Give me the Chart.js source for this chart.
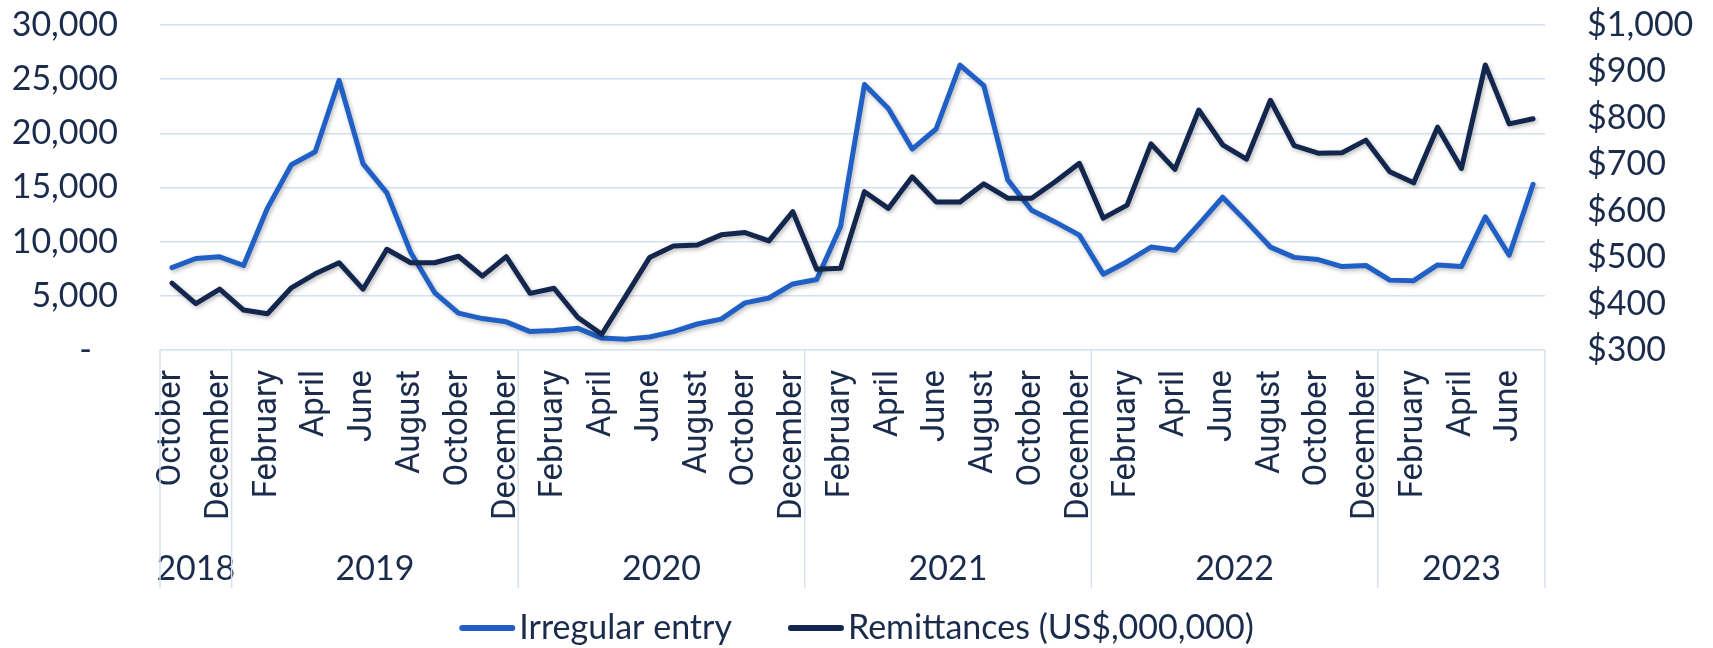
<!DOCTYPE html>
<html>
<head>
<meta charset="utf-8">
<script src="https://cdn.jsdelivr.net/npm/chart.js@4"></script>
<style>
  html, body { margin: 0; padding: 0; background: #fff; }
  #wrap { width: 1713px; height: 648px; position: relative; }
</style>
</head>
<body>
<div id="wrap"><canvas id="myChart"></canvas></div>
<script>
// months shown every other tick, years drawn as a grouped row underneath
var monthNames = ["January", "February", "March", "April", "May", "June",
  "July", "August", "September", "October", "November", "December"];
var years = ["2018", "2019", "2020", "2021", "2022", "2023"];
var yearCounts = [3, 12, 12, 12, 12, 7];
var firstMonth = 9; // October 2018

var irregularEntry = [7600, 8450, 8600, 7800, 13100, 17100, 18300, 24900, 17200, 14500,
  9000, 5300, 3400, 2900, 2600, 1700, 1800, 2000, 1100, 1000,
  1200, 1700, 2400, 2850, 4350, 4800, 6100, 6500, 11400, 24500,
  22300, 18550, 20400, 26300, 24400, 15700, 12900, 11800, 10600, 7000,
  8150, 9500, 9200, 11600, 14100, 11850, 9500, 8550, 8350, 7700,
  7800, 6450, 6400, 7850, 7700, 12300, 8750, 15300];

var remittances = [444, 400, 431, 386, 378, 434, 464, 488, 431, 517,
  488, 488, 502, 459, 501, 422, 433, 370, 334, 416,
  499, 524, 526, 548, 553, 535, 598, 474, 476, 641,
  605, 673, 619, 619, 658, 627, 627, 663, 702, 584,
  612, 744, 689, 817, 742, 711, 838, 740, 724, 725,
  752, 684, 660, 780, 691, 914, 787, 798];

var leftTicks = { min: 0, max: 30000, step: 5000 };
var rightTicks = { min: 300, max: 1000, step: 100 };

var labels = [];
for (var i = 0; i < irregularEntry.length; i++) {
  labels.push(monthNames[(firstMonth + i) % 12]);
}

var blue = "#2060C6",
  navy = "#12264E",
  textColor = "#1B2B4B",
  gridColor = "#D3E0F3",
  tickFont = { family: "Lato", size: 34 };

var shadowPlugin = {
  id: "lineShadow",
  beforeDatasetsDraw: function(chart) {
    var c = chart.ctx;
    c.save();
    c.shadowColor = "rgba(0,0,0,0.28)";
    c.shadowBlur = 4;
    c.shadowOffsetX = 1.5;
    c.shadowOffsetY = 2;
  },
  afterDatasetsDraw: function(chart) {
    chart.ctx.restore();
  }
};

var groupPlugin = {
  id: "yearRow",
  afterDraw: function(chart) {
    var ctx = chart.ctx,
      x = chart.scales.x,
      area = chart.chartArea,
      step = x.getPixelForValue(1) - x.getPixelForValue(0),
      start = 0,
      edges = [x.left];
    ctx.save();
    ctx.font = tickFont.size + "px " + tickFont.family;
    ctx.fillStyle = textColor;
    ctx.textAlign = "center";
    ctx.textBaseline = "middle";
    years.forEach(function(yr, k) {
      var n = yearCounts[k];
      var l = x.getPixelForValue(start) - step / 2;
      var r = x.getPixelForValue(start + n - 1) + step / 2;
      ctx.fillText(yr, (l + r) / 2, 569);
      edges.push(r);
      start += n;
    });
    ctx.strokeStyle = gridColor;
    ctx.lineWidth = 1.5;
    edges.forEach(function(px) {
      ctx.beginPath();
      ctx.moveTo(px, area.bottom);
      ctx.lineTo(px, 588);
      ctx.stroke();
    });

    // legend
    var sw = 56, gap = 4, between = 56, ly = 628;
    var items = chart.data.datasets.map(function(ds) {
      return { text: ds.label, color: ds.borderColor, w: sw + gap + ctx.measureText(ds.label).width };
    });
    var total = items.reduce(function(s, it) { return s + it.w; }, 0) + between * (items.length - 1);
    var cx = chart.width / 2 - total / 2;
    ctx.textAlign = "left";
    ctx.lineCap = "round";
    ctx.lineWidth = 6;
    items.forEach(function(it) {
      ctx.strokeStyle = it.color;
      ctx.beginPath();
      ctx.moveTo(cx + 3, ly);
      ctx.lineTo(cx + sw - 3, ly);
      ctx.stroke();
      ctx.fillText(it.text, cx + sw + gap, ly);
      cx += it.w + between;
    });
    ctx.restore();
  }
};

function fixWidth(w) {
  return function(scale) {
    scale.width = w;
    scale.paddingTop = 0;
    scale.paddingBottom = 0;
  };
}

var ctx = document.getElementById("myChart");
var myChart = new Chart(ctx, {
  type: "line",
  data: {
    labels: labels,
    datasets: [
      {
        label: "Irregular entry",
        data: irregularEntry,
        yAxisID: "y",
        borderColor: blue,
        backgroundColor: blue,
        borderWidth: 5,
        pointRadius: 0,
        tension: 0,
        borderJoinStyle: "round",
        borderCapStyle: "round",
        order: 1
      },
      {
        label: "Remittances (US$,000,000)",
        data: remittances,
        yAxisID: "y1",
        borderColor: navy,
        backgroundColor: navy,
        borderWidth: 5,
        pointRadius: 0,
        tension: 0,
        borderJoinStyle: "round",
        borderCapStyle: "round",
        order: 0
      }
    ]
  },
  options: {
    responsive: true,
    maintainAspectRatio: false,
    animation: false,
    layout: { padding: { top: 25, bottom: 0, left: 0, right: 0 } },
    plugins: {
      legend: { display: false },
      tooltip: { enabled: false }
    },
    scales: {
      x: {
        offset: true,
        grid: { display: false, drawTicks: false, offset: true },
        border: { display: false },
        ticks: {
          autoSkip: false,
          minRotation: 90,
          maxRotation: 90,
          padding: 20,
          color: textColor,
          font: { family: "Roboto", size: 33 },
          callback: function(val, idx) {
            return idx % 2 === 0 ? this.getLabelForValue(val) : "";
          }
        },
        afterFit: function(scale) {
          scale.height = 298;
          scale.paddingLeft = 0;
          scale.paddingRight = 0;
        }
      },
      y: {
        position: "left",
        min: leftTicks.min,
        max: leftTicks.max,
        grid: { color: gridColor, lineWidth: 1.5, drawTicks: false },
        border: { display: false },
        ticks: {
          stepSize: leftTicks.step,
          autoSkip: false,
          padding: 42,
          color: textColor,
          font: tickFont,
          callback: function(v) {
            return v === 0 ? "-   " : v.toLocaleString("en-US");
          }
        },
        afterFit: fixWidth(160)
      },
      y1: {
        position: "right",
        min: rightTicks.min,
        max: rightTicks.max,
        grid: { display: false, drawTicks: false },
        border: { display: false },
        ticks: {
          stepSize: rightTicks.step,
          autoSkip: false,
          padding: 42,
          color: textColor,
          font: tickFont,
          callback: function(v) {
            return "$" + v.toLocaleString("en-US");
          }
        },
        afterFit: fixWidth(168)
      }
    }
  },
  plugins: [shadowPlugin, groupPlugin]
});
</script>
</body>
</html>
